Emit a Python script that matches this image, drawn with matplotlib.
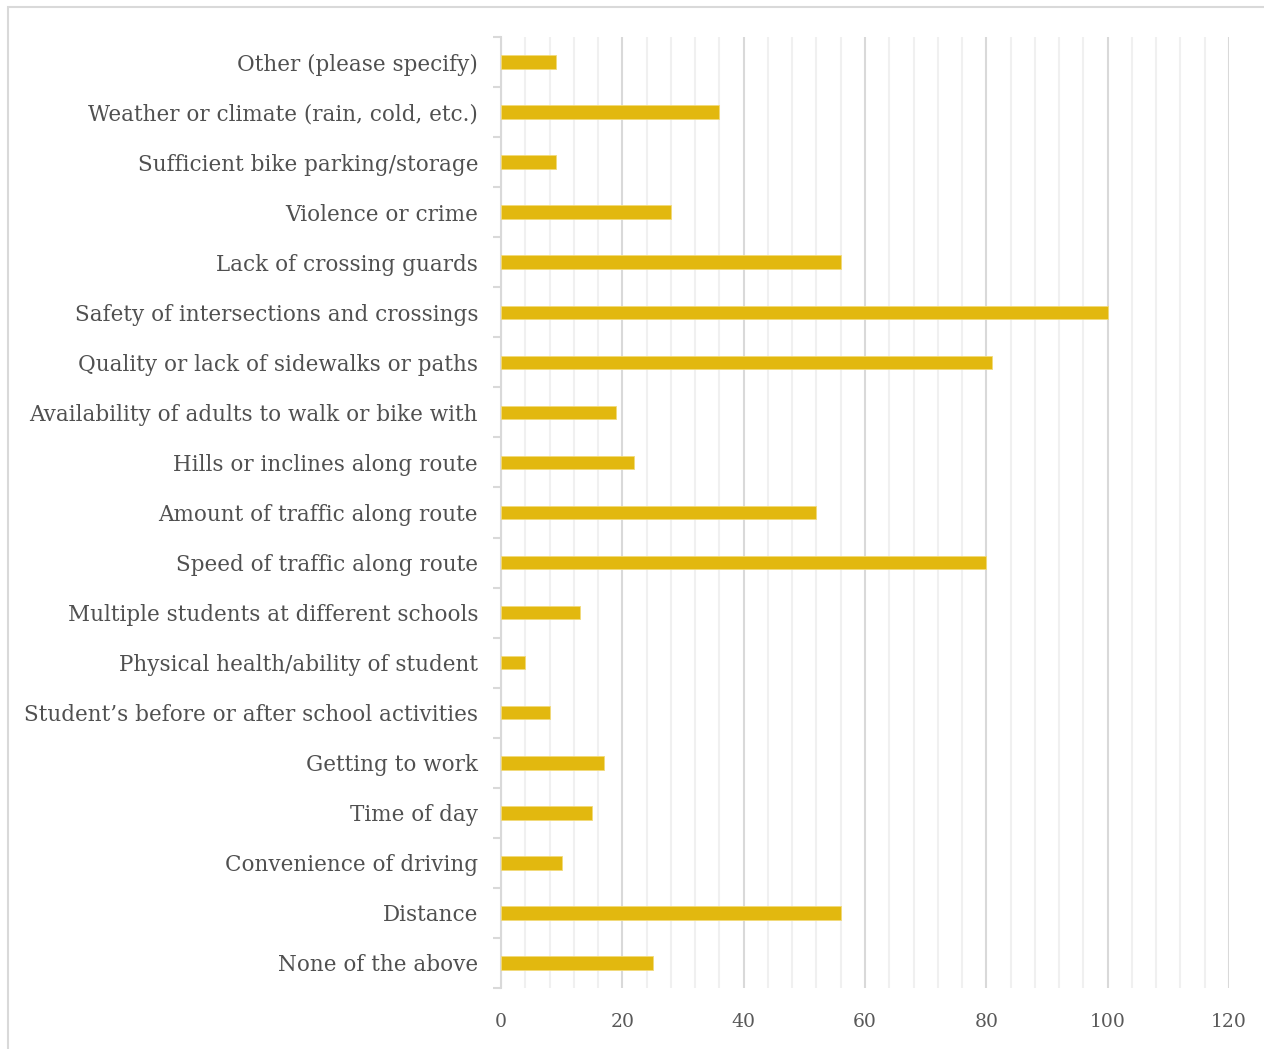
import matplotlib.pyplot as plt
from matplotlib.patches import Rectangle
from matplotlib.ticker import MultipleLocator, FixedLocator

categories = [
    "None of the above",
    "Distance",
    "Convenience of driving",
    "Time of day",
    "Getting to work",
    "Student\u2019s before or after school activities",
    "Physical health/ability of student",
    "Multiple students at different schools",
    "Speed of traffic along route",
    "Amount of traffic along route",
    "Hills or inclines along route",
    "Availability of adults to walk or bike with",
    "Quality or lack of sidewalks or paths",
    "Safety of intersections and crossings",
    "Lack of crossing guards",
    "Violence or crime",
    "Sufficient bike parking/storage",
    "Weather or climate (rain, cold, etc.)",
    "Other (please specify)",
]
responses = [25, 56, 10, 15, 17, 8, 4, 13, 80, 52, 22, 19, 81, 100, 56, 28, 9, 36, 9]
x_ticks = [0, 20, 40, 60, 80, 100, 120]

plt.rcParams['font.family'] = ['DejaVu Serif']

fig = plt.figure(figsize=(12.64, 10.49), dpi=100)
ax = fig.add_axes([501 / 1264, 1 - 988 / 1049, 728 / 1264, 951 / 1049])

# outer chart border (open at the bottom and right)
fig.patches.append(Rectangle((8 / 1264, -0.1), 1.0, 1.1 - 7 / 1049,
                             transform=fig.transFigure, fill=False,
                             edgecolor='#d9d9d9', linewidth=1.5))

y = range(len(categories))
ax.barh(y, responses, height=0.27, color='#E2B80F', edgecolor='#F2DA7A',
        linewidth=0.6, zorder=3)

ax.set_xlim(0, 120)
ax.set_ylim(-0.5, len(categories) - 0.5)

ax.xaxis.set_major_locator(FixedLocator(x_ticks))
ax.xaxis.set_minor_locator(MultipleLocator(4))
ax.grid(which='major', axis='x', color='#d9d9d9', linewidth=1.5, zorder=0)
ax.grid(which='minor', axis='x', color='#f0f0f0', linewidth=1.5, zorder=0)
ax.tick_params(axis='x', which='both', length=0, pad=18, labelsize=13.5,
               labelcolor='#595959')

ax.set_yticks(list(y))
ax.set_yticklabels(categories)
ax.yaxis.set_minor_locator(FixedLocator([i + 0.5 for i in range(-1, len(categories))]))
ax.tick_params(axis='y', which='major', length=0, pad=16.5, labelsize=15.5,
               labelcolor='#505050')
ax.tick_params(axis='y', which='minor', length=6, width=1.5, color='#d9d9d9')

for side in ['top', 'right', 'bottom']:
    ax.spines[side].set_visible(False)
ax.spines['left'].set_color('#d9d9d9')
ax.spines['left'].set_linewidth(1.5)

fig.savefig('out.png', dpi=100)
